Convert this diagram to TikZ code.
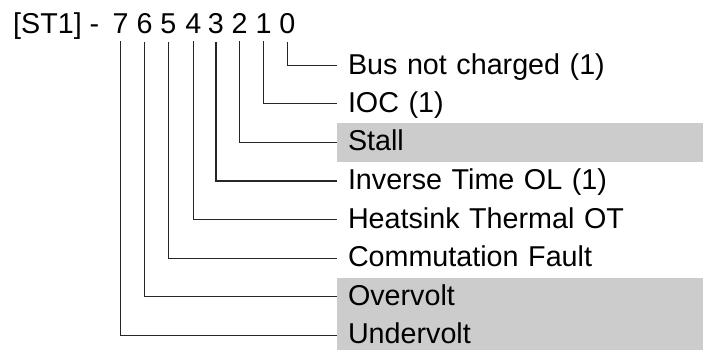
\documentclass[tikz,border=0pt]{standalone}
\usepackage{fontspec}
\setmainfont{Liberation Sans}
\usetikzlibrary{positioning}
\definecolor{flaggray}{RGB}{204,204,204}

\begin{document}
\begin{tikzpicture}[x=1pt, y=-1pt, font=\fontsize{28.7pt}{34pt}\selectfont,
    bitnum/.style={inner sep=0pt, outer ysep=7.5pt, anchor=base},
    flag/.style={anchor=west, inner xsep=11pt, inner ysep=0pt, outer sep=0pt,
      minimum height=38.6pt, text width=344pt, align=left,
      text height=21pt, text depth=4pt},
    flagset/.style={flag, fill=flaggray},
    tie/.style={line width=1.2pt, black!85},
  ]
  \path[use as bounding box, clip] (0,0) rectangle (703,350);

  % register name and bit numbers
  \node[anchor=base west, inner sep=0pt] (reg) at (13,34) {[ST1] -};
  \foreach \b/\x in {7/120.7, 6/144.5, 5/168.3, 4/193.3, 3/215.9, 2/239.7, 1/263.5, 0/287.3}
    \node[bitnum] (b\b) at (\x,34) {\b};

  % status flags, shaded rows are the fault bits
  \node[flag]    (f0) at (337,65.7)  {Bus not charged (1)};
  \node[flag]    (f1) at (337,103.8) {IOC (1)};
  \node[flagset] (f2) at (337,142.4) {Stall};
  \node[flag]    (f3) at (337,181.0) {Inverse Time OL (1)};
  \node[flag]    (f4) at (337,219.6) {Heatsink Thermal OT};
  \node[flag]    (f5) at (337,258.2) {Commutation Fault};
  \node[flagset] (f6) at (337,296.8) {Overvolt};
  \node[flagset] (f7) at (337,335.4) {Undervolt};

  \foreach \b in {0,...,7}
    \draw[tie] (b\b.south) |- (f\b.west);
\end{tikzpicture}
\end{document}
